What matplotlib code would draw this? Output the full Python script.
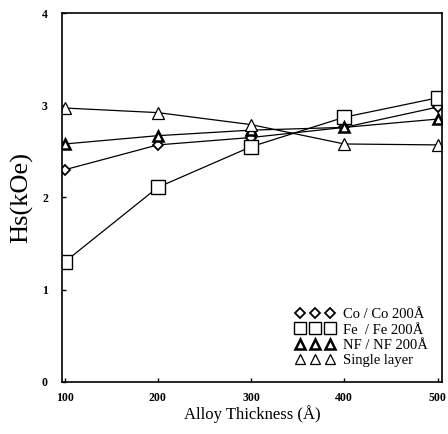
import matplotlib.pyplot as plt
from matplotlib.lines import Line2D

plt.rcParams['font.family'] = ['Liberation Serif', 'DejaVu Serif']

# Hs versus alloy thickness for the different under/over layers
thickness = [100, 200, 300, 400, 500]
hs_co = [2.30, 2.57, 2.65, 2.76, 2.98]
hs_fe = [1.30, 2.11, 2.55, 2.87, 3.08]
hs_nf = [2.58, 2.67, 2.73, 2.76, 2.85]
hs_single = [2.97, 2.92, 2.79, 2.58, 2.57]

labels = ['Co / Co 200Å', 'Fe  / Fe 200Å', 'NF / NF 200Å', 'Single layer']

# marker, size on the curves, size in the key, edge width
styles = [('D', 5, 5, 1.3), ('s', 10, 8.5, 1.0),
          ('^', 7, 6.5, 1.8), ('^', 8, 7, 0.9)]
series = [hs_co, hs_fe, hs_nf, hs_single]

fig = plt.figure(figsize=(4.48, 4.34), dpi=100)
ax = fig.add_axes([0.138, 0.12, 0.849, 0.85])

handles = []
for ys, (m, ms, ms_key, mew), lab in zip(series, styles, labels):
    ax.plot(thickness, ys, color='black', lw=0.9, marker=m, ms=ms,
            mfc='white', mec='black', mew=mew)
    handles.append(Line2D([], [], ls='none', marker=m, ms=ms_key,
                          mfc='white', mec='black', mew=mew))

ax.set_xlim(97, 505)
ax.set_ylim(0, 4)
ax.set_xticks([100, 200, 300, 400, 500])
ax.set_yticks([0, 1, 2, 3, 4])
ax.tick_params(direction='in', length=3, width=1, labelsize=8.5)
ax.tick_params(axis='y', pad=10)
ax.tick_params(axis='x', pad=7)
for lab in ax.get_xticklabels() + ax.get_yticklabels():
    lab.set_fontweight('bold')
for s in ax.spines.values():
    s.set_linewidth(1.2)

ax.set_xlabel('Alloy Thickness (Å)', fontsize=12, labelpad=1)
ax.set_ylabel('Hs(kOe)', fontsize=19, labelpad=6)

ax.legend(handles, labels, loc='lower right', numpoints=3, frameon=False,
          fontsize=10.5, handlelength=2.6, handletextpad=0.6,
          labelspacing=0.15, borderaxespad=0.6)

fig.savefig('out.png', dpi=100)
